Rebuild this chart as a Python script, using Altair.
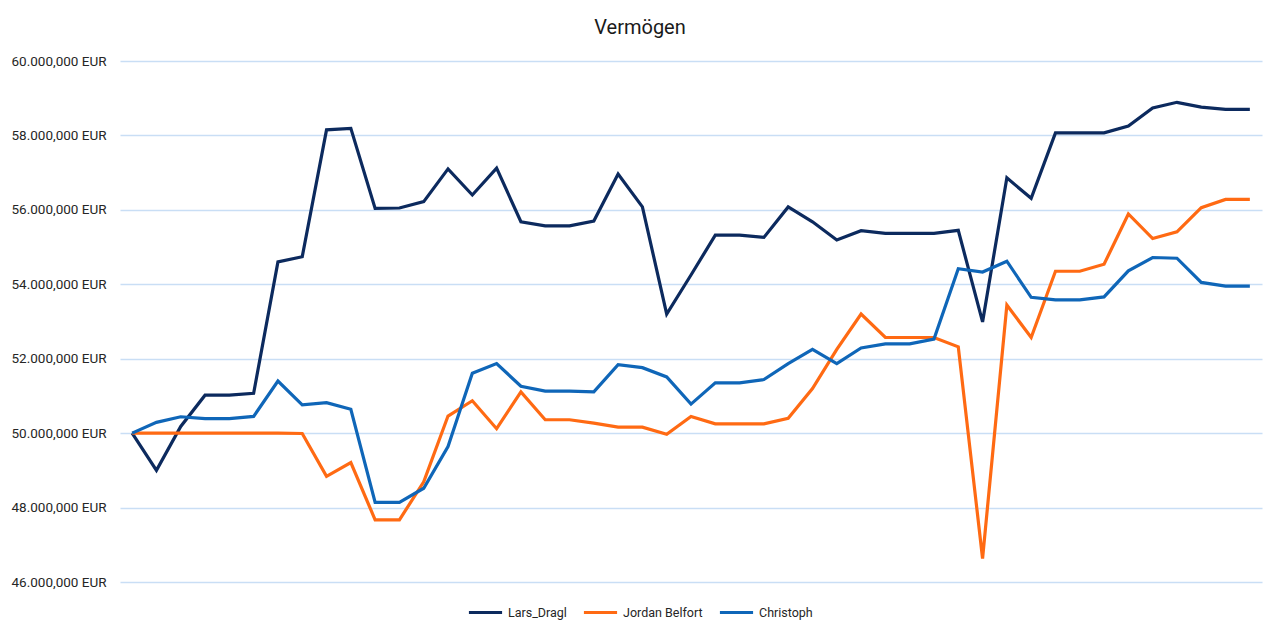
import altair as alt
import pandas as pd

series_names = ["Lars_Dragl", "Jordan Belfort", "Christoph"]
series_colors = ["#0c2a5e", "#ff6a13", "#0f66b8"]

lars = [50.00, 49.00, 50.18, 51.02, 51.02, 51.07, 54.60, 54.74, 58.15, 58.19,
        56.04, 56.05, 56.22, 57.10, 56.40, 57.12, 55.68, 55.57, 55.57, 55.70,
        56.96, 56.08, 53.20, 54.25, 55.32, 55.32, 55.26, 56.08, 55.68, 55.19,
        55.44, 55.37, 55.37, 55.37, 55.45, 52.99, 56.86, 56.31, 58.07, 58.07,
        58.07, 58.25, 58.74, 58.89, 58.76, 58.70, 58.70]
jordan = [50.00, 50.00, 50.00, 50.00, 50.00, 50.00, 50.00, 49.99, 48.84, 49.21,
          47.67, 47.67, 48.69, 50.46, 50.87, 50.12, 51.11, 50.36, 50.36, 50.27,
          50.16, 50.16, 49.97, 50.45, 50.25, 50.25, 50.25, 50.40, 51.20, 52.25,
          53.20, 52.57, 52.57, 52.57, 52.32, 46.63, 53.44, 52.57, 54.35, 54.35,
          54.54, 55.89, 55.23, 55.41, 56.06, 56.28, 56.28]
christoph = [50.00, 50.29, 50.44, 50.39, 50.39, 50.45, 51.40, 50.76, 50.82, 50.64,
             48.14, 48.14, 48.52, 49.64, 51.61, 51.87, 51.26, 51.13, 51.13, 51.11,
             51.84, 51.76, 51.51, 50.78, 51.35, 51.35, 51.44, 51.87, 52.25, 51.87,
             52.29, 52.40, 52.40, 52.53, 54.42, 54.33, 54.62, 53.65, 53.58, 53.58,
             53.66, 54.36, 54.72, 54.70, 54.05, 53.95, 53.95]

y_ticks = [46e6, 48e6, 50e6, 52e6, 54e6, 56e6, 58e6, 60e6]

rows = []
for name, vals in zip(series_names, [lars, jordan, christoph]):
    for i, v in enumerate(vals):
        rows.append({"idx": i, "Serie": name, "order": series_names.index(name), "Wert": v * 1e6})
df = pd.DataFrame(rows)

FONT = "Roboto"

chart = alt.Chart(df).mark_line(strokeWidth=3.2, strokeJoin="miter").encode(
    x=alt.X("idx:Q", axis=None,
            scale=alt.Scale(domain=[-0.5, len(lars) - 0.5], nice=False, zero=False)),
    y=alt.Y("Wert:Q", title=None,
            scale=alt.Scale(domain=[46e6, 60e6], nice=False, zero=False),
            axis=alt.Axis(values=y_ticks, domain=False, ticks=False, labelPadding=14,
                          labelFontSize=13.5, labelFont=FONT, labelColor="#262626",
                          gridColor="#c9def5", gridWidth=1.3,
                          labelExpr="replace(format(datum.value, ','), ',', '.') + ' EUR'")),
    color=alt.Color("Serie:N", sort=series_names,
                    scale=alt.Scale(domain=series_names, range=series_colors),
                    legend=alt.Legend(title=None, orient="none", direction="horizontal",
                                      legendX=347, legendY=533,
                                      symbolType="stroke", symbolSize=1100,
                                      symbolStrokeWidth=3, columnPadding=10,
                                      labelOffset=4, labelFontSize=12.5, labelFont=FONT,
                                      labelColor="#262626")),
    order=alt.Order("order:Q"),
    detail="Serie:N",
).properties(
    width=1142,
    height=521,
    background="white",
    title=alt.TitleParams("Vermögen", fontSize=20, font=FONT, fontWeight="normal",
                          color="#1a1a1a", anchor="middle", dx=-51, offset=16),
    padding={"left": 112, "top": 53, "right": 10, "bottom": 50},
    autosize=alt.AutoSizeParams(type="none"),
).configure_view(stroke=None)

chart.save("out.html", embed_options={"renderer": "svg", "actions": False})
